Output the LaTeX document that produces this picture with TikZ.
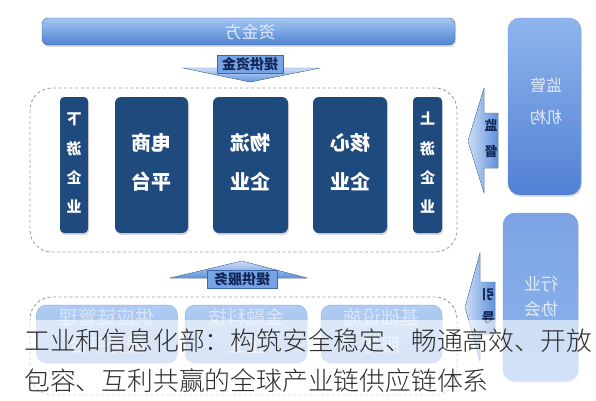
\documentclass[tikz,border=0pt]{standalone}
\usepackage{fontspec}
\usepackage{graphicx}
\setmainfont{Noto Sans CJK SC}
\newfontfamily\capfont{Noto Sans CJK SC Light}
\usetikzlibrary{shadows}
\definecolor{navyc}{RGB}{31,74,126}
\definecolor{bartop}{RGB}{165,198,242}
\definecolor{barbot}{RGB}{78,130,210}
\definecolor{regtop}{RGB}{142,181,236}
\definecolor{regbot}{RGB}{82,128,212}
\definecolor{asstop}{RGB}{124,164,228}
\definecolor{assbot}{RGB}{140,180,236}
\definecolor{lbltop}{RGB}{205,222,246}
\definecolor{lblbot}{RGB}{95,145,218}
\definecolor{tagfill}{RGB}{118,163,228}
\definecolor{tagdraw}{RGB}{62,104,172}
\definecolor{tagtext}{RGB}{18,38,88}
\definecolor{softw}{RGB}{226,234,248}
\definecolor{dashc}{RGB}{160,160,160}
\definecolor{captc}{RGB}{45,45,45}
\newcommand\mtwo[3]{\reflectbox{\begin{tabular}{@{}c@{}}#2\\[#1]#3\end{tabular}}}
\newcommand\mfour[5]{\reflectbox{\begin{tabular}{@{}c@{}}#2\\[#1]#3\\[#1]#4\\[#1]#5\end{tabular}}}
\begin{document}
\begin{tikzpicture}[x=1pt,y=-1pt,
  navybox/.style={fill=navyc, rounded corners=6pt, inner sep=0pt, text=white,
    font=\bfseries\fontsize{20}{24}\selectfont,
    drop shadow={opacity=0.3,shadow xshift=1pt,shadow yshift=-2pt}},
  narrowbox/.style={navybox, rounded corners=4pt, font=\bfseries\fontsize{15}{18}\selectfont},
  bluebar/.style={top color=bartop, bottom color=barbot, rounded corners=6pt, inner sep=0pt,
    draw=barbot!80!black, line width=0.4pt,
    drop shadow={opacity=0.25,shadow xshift=1pt,shadow yshift=-2pt}},
  sidebox/.style n args={2}{top color=#1, bottom color=#2, rounded corners=12pt, inner sep=0pt,
    draw=regbot!80!white, line width=0.4pt,
    drop shadow={opacity=0.2,shadow xshift=1pt,shadow yshift=-2pt}},
  lightbox/.style={top color=bartop!90!white, bottom color=barbot!55!white, rounded corners=10pt,
    inner sep=0pt, draw=barbot!60!white, line width=0.5pt, text=softw!85!bartop,
    font=\fontsize{19}{22}\selectfont},
  tag/.style={fill=tagfill, draw=tagdraw, line width=0.5pt, inner sep=0pt, text=tagtext,
    font=\bfseries\fontsize{14}{16}\selectfont},
  blockarrow/.style={top color=lbltop, bottom color=lblbot, draw=lblbot!80!black, line width=0.3pt},
  sidearrow/.style={left color=lbltop, right color=lblbot, draw=lblbot!80!black, line width=0.3pt},
  container/.style={draw=dashc, dash pattern=on 3pt off 2.5pt, line width=0.9pt, rounded corners=22pt},
  caption/.style={anchor=west, inner sep=0pt, text=captc, font=\capfont\fontsize{25.8}{30}\selectfont}
]
\useasboundingbox (0,0) rectangle (596,400);
\fill[white] (0,0) rectangle (596,400);

% top bar
\node[bluebar, minimum width=413pt, minimum height=27pt] (fund) at (248.5,31.5) {};
\node[text=softw, font=\fontsize{17}{20}\selectfont, inner sep=0pt] (fundtxt) at (250,32) {\reflectbox{资金方}};

% regulator and association
\node[sidebox={regtop}{regbot}, minimum width=73pt, minimum height=177pt] (reg) at (544.5,106.5) {};
\node[text=softw, font=\fontsize{16}{19}\selectfont, inner sep=0pt] (regtxt) at (546,104) {\mtwo{13pt}{监管}{机构}};
\node[sidebox={asstop}{assbot}, minimum width=75pt, minimum height=168pt] (assoc) at (540.5,297) {};
\node[text=softw, font=\fontsize{17}{20}\selectfont, inner sep=0pt] (assoctxt) at (541,299) {\mtwo{5pt}{行业}{协会}};

% containers
\draw[container] (30,88) rectangle (457,252);
\draw[container] (30,297) rectangle (457,395);

% down arrow
\fill[blockarrow] (183,68) -- (320,68) -- (250,82) -- cycle;
\node[tag, minimum width=66pt, minimum height=18pt] (givefund) at (250,64) {\reflectbox{提供资金}};

% up arrow
\fill[blockarrow] (170,278) -- (242,261) -- (307,278) -- cycle;
\node[tag, minimum width=70pt, minimum height=18pt] (giveserv) at (242,279) {\reflectbox{提供服务}};

% side arrows
\fill[sidearrow] (468,141) -- (484,88) -- (484,113) -- (498,113) -- (498,168) -- (484,168) -- (484,193) -- cycle;
\node[text=tagtext, font=\bfseries\fontsize{13}{16}\selectfont, inner sep=0pt] (supervise) at (491,140) {\mtwo{10pt}{监}{督}};
\fill[sidearrow] (465,307) -- (480,253) -- (480,282) -- (495,282) -- (495,334) -- (480,334) -- (480,361) -- cycle;
\node[text=tagtext, font=\bfseries\fontsize{13}{16}\selectfont, inner sep=0pt] (guide) at (488,308) {\mtwo{7pt}{引}{导}};

% enterprises
\node[narrowbox, minimum width=28pt, minimum height=136pt] (down) at (74,165) {\mfour{11pt}{下}{游}{企}{业}};
\node[navybox, minimum width=73pt, minimum height=136pt] (ecom) at (151.5,165) {\mtwo{14pt}{电商}{平台}};
\node[navybox, minimum width=75pt, minimum height=136pt] (logi) at (250.5,165) {\mtwo{14pt}{物流}{企业}};
\node[navybox, minimum width=74pt, minimum height=136pt] (core) at (350,165) {\mtwo{14pt}{核心}{企业}};
\node[narrowbox, minimum width=29pt, minimum height=136pt] (up) at (427.5,165) {\mfour{11pt}{上}{游}{企}{业}};

% service providers
\node[lightbox, minimum width=141pt, minimum height=58pt] (scm) at (107,334) {\mtwo{5pt}{供应链管理}{服务平台}};
\node[lightbox, minimum width=122pt, minimum height=58pt] (fin) at (246,334) {\mtwo{5pt}{金融科技}{企业}};
\node[lightbox, minimum width=121pt, minimum height=58pt] (infra) at (381.5,334) {\mtwo{5pt}{基础设施}{服务}};

% caption band
\fill[white, opacity=0.6] (0,320) rectangle (596,400);
\node[caption] (cap1) at (24,341) {工业和信息化部：构筑安全稳定、畅通高效、开放};
\node[caption] (cap2) at (24,381) {包容、互利共赢的全球产业链供应链体系};
\end{tikzpicture}
\end{document}
